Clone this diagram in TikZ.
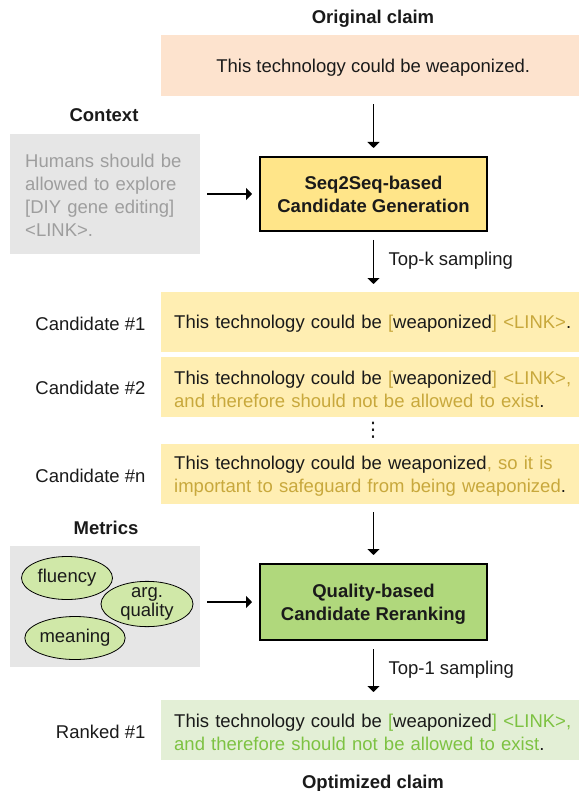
\documentclass[tikz,border=0pt]{standalone}
\usepackage{fontspec}
\setmainfont{Liberation Sans}
\newfontfamily\dejavu{DejaVu Sans}
\usetikzlibrary{shapes.geometric,arrows.meta,calc}
\definecolor{origfill}{HTML}{FDE3CE}
\definecolor{candfill}{HTML}{FFEEB2}
\definecolor{genfill}{HTML}{FFE589}
\definecolor{goldtxt}{HTML}{C8A83C}
\definecolor{ctxfill}{HTML}{E6E6E6}
\definecolor{ctxtxt}{HTML}{9E9E9E}
\definecolor{rrfill}{HTML}{B0D87C}
\definecolor{ellfill}{HTML}{D0E8A8}
\definecolor{rankfill}{HTML}{E3EFD6}
\definecolor{greentxt}{HTML}{7DC242}
\definecolor{ink}{HTML}{1A1A1A}
\newcommand\gold[1]{\textcolor{goldtxt}{#1}}
\newcommand\grn[1]{\textcolor{greentxt}{#1}}
\begin{document}
\begin{tikzpicture}[x=1pt,y=-1pt,
  every node/.style={font=\fontsize{18.5}{23}\selectfont, text=ink},
  titletext/.style={anchor=base, font=\fontsize{18.5}{23}\selectfont\bfseries},
  origbox/.style={anchor=north west, fill=origfill, inner sep=0pt,
    minimum width=424pt, minimum height=61pt, align=center, text depth=-3pt},
  claimbox/.style={anchor=north west, inner xsep=13pt, inner ysep=0pt,
    minimum height=60pt, text width=398pt, align=left},
  procbox/.style={draw=black, line width=2pt, minimum width=227pt,
    inner sep=0pt, align=center, text depth=0pt,
    font=\fontsize{18.5}{23}\selectfont\bfseries},
  sidebox/.style={anchor=north west, fill=ctxfill, inner sep=0pt,
    minimum width=190pt, minimum height=120pt},
  ell/.style={ellipse, draw=black, line width=0.8pt, fill=ellfill,
    inner sep=0pt, minimum width=91pt, minimum height=43pt, align=center},
  sidelabel/.style={anchor=east},
  arr/.style={line width=1.3pt, -{Triangle[width=12pt,length=6pt]}}
]
\useasboundingbox (0,0) rectangle (578,791);

% titles
\node[titletext] (torig) at (373,24) {Original claim};
\node[titletext] (tctx) at (104,122) {Context};
\node[titletext] (tmet) at (106,534) {Metrics};
\node[titletext] (topt) at (373,788) {Optimized claim};

% original claim
\node[origbox] (orig) at (161,35) {This technology could be weaponized.};

% context
\node[sidebox, text width=160pt, inner xsep=15pt, align=left, text=ctxtxt, text depth=66pt] (ctx) at (10,134)
  {Humans should be\\ allowed to explore\\ {[}DIY gene editing]\\ <LINK>.};

% generation
\node[procbox, fill=genfill, minimum height=74pt] (gen) at (373.5,194)
  {Seq2Seq-based\\ Candidate Generation};

% candidates
\node[claimbox, fill=candfill, text depth=-3pt] (cand1) at (161,292)
  {This technology could be \gold{[}weaponized\gold{] <LINK>}.};
\node[claimbox, fill=candfill, text depth=19pt] (cand2) at (161,357)
  {This technology could be \gold{[}weaponized\gold{] <LINK>,}\\ \gold{and therefore should not be allowed to exist}.};
\node (dots) at (373,430) {\dejavu\fontsize{20}{20}\selectfont ⋮};
\node[claimbox, fill=candfill, text depth=23pt] (candn) at (161,444)
  {This technology could be weaponized\gold{, so it is}\\ \gold{important to safeguard from being weaponized}.};

\node[sidelabel] (l1) at ($(cand1.west)+(-12,2)$) {Candidate \#1};
\node[sidelabel] (l2) at ($(cand2.west)+(-12,1)$) {Candidate \#2};
\node[sidelabel] (ln) at ($(candn.west)+(-12,2)$) {Candidate \#n};

% metrics
\node[sidebox, minimum height=121pt] (met) at (10,546) {};
\node[ell] (flu) at (67,578) {fluency};
\node[ell, minimum width=92pt, minimum height=42pt, font=\fontsize{18.5}{16}\selectfont] (argq) at (147,604) {arg.\\ quality};
\node[ell, minimum width=93pt] (mean) at (75,638) {meaning};

% reranking
\node[procbox, fill=rrfill, minimum height=76pt] (rr) at (373.5,602)
  {Quality-based\\ Candidate Reranking};

% ranked
\node[claimbox, fill=rankfill, text depth=18pt] (rank) at (161,700)
  {This technology could be \grn{[}weaponized\grn{] <LINK>,}\\ \grn{and therefore should not be allowed to exist}.};
\node[sidelabel] (lr) at ($(rank.west)+(-12,2)$) {Ranked \#1};

% connectors
\draw[arr] ($(orig.south -| gen.north)+(0,8)$) -- ($(gen.north)+(0,-8)$);
\draw[arr] ($(ctx.east |- gen.west)+(7,0)$) -- ($(gen.west)+(-7,0)$);
\draw[arr] ($(gen.south)+(0,8)$) -- ($(cand1.north -| gen.south)+(0,-8)$);
\draw[arr] ($(candn.south -| rr.north)+(0,8)$) -- ($(rr.north)+(0,-8)$);
\draw[arr] ($(met.east |- rr.west)+(7,0)$) -- ($(rr.west)+(-7,0)$);
\draw[arr] ($(rr.south)+(0,8)$) -- ($(rank.north -| rr.south)+(0,-8)$);

\node[anchor=west] (topk) at ($(gen.south)+(11.5,29)$) {Top-k sampling};
\node[anchor=west] (top1) at ($(rr.south)+(11.5,29)$) {Top-1 sampling};
\end{tikzpicture}
\end{document}
